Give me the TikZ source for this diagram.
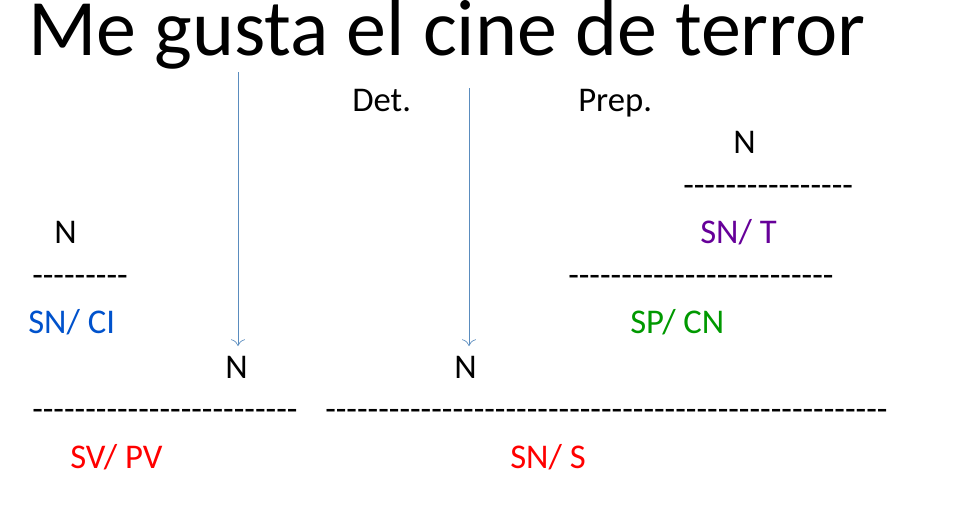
\documentclass[tikz,border=0pt]{standalone}
\usepackage{fontspec}
\setmainfont{Carlito}
\usetikzlibrary{arrows.meta}
\newcommand\dashrep[1]{\count255=#1 \loop\ifnum\count255>0 -{}\advance\count255 by -1 \repeat}
\definecolor{arrc}{RGB}{90,140,190}
\begin{document}
\begin{tikzpicture}[x=0.75pt,y=-0.75pt,
  lbl/.style={inner sep=0pt,anchor=base west,font=\fontsize{26}{30}\selectfont},
  arr/.style={draw=arrc,line width=0.5pt,-{To[length=5pt]}}]
\useasboundingbox (0,0) rectangle (960,504);
\node[inner sep=0pt,anchor=base west,font=\fontsize{60}{66}\selectfont] (t) at (28,55) {Me gusta el cine de terror};
\node[lbl] (det) at (352,111) {Det.};
\node[lbl] (prep) at (578,111) {Prep.};
\node[lbl] (n1) at (733,153) {N};
\node[lbl] (d1) at (683,196) {\dashrep{16}};
\node[lbl,text=violet!80!blue] (snt) at (700,243) {SN/ T};
\node[lbl] (n2) at (54,243) {N};
\node[lbl] (d2) at (32,286) {\dashrep{9}};
\node[lbl] (d3) at (568,286) {\dashrep{25}};
\node[lbl,text=blue!60!cyan!80!black] (snci) at (28,333) {SN/ CI};
\node[lbl,text=green!60!black] (spcn) at (630,333) {SP/ CN};
\node[lbl] (n3) at (225,378) {N};
\node[lbl] (n4) at (454,378) {N};
\node[lbl] (d4) at (32,420) {\dashrep{25}};
\node[lbl] (d5) at (325,420) {\dashrep{53}};
\node[lbl,text=red] (svpv) at (70,468) {SV/ PV};
\node[lbl,text=red] (sns) at (510,468) {SN/ S};
\coordinate (a1) at (238,72); \coordinate (b1) at (238,346);
\coordinate (a2) at (469,88); \coordinate (b2) at (469,346);
\draw[arr] (a1) -- (b1);
\draw[arr] (a2) -- (b2);
\end{tikzpicture}
\end{document}
